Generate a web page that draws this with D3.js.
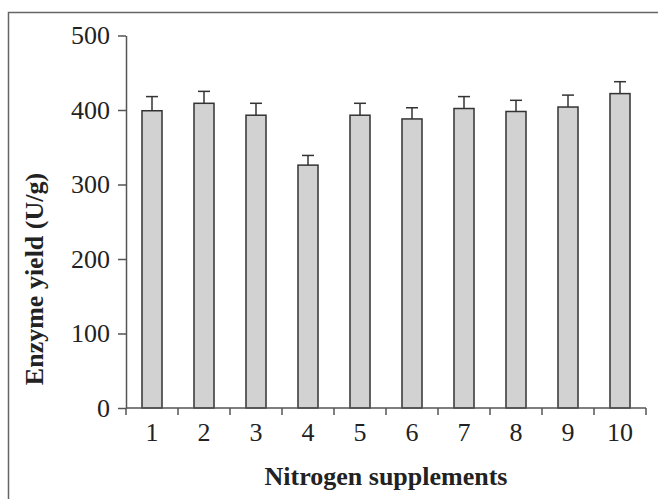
<!DOCTYPE html>
<html><head><meta charset="utf-8">
<script src="https://cdn.jsdelivr.net/npm/d3@7"></script>
<style>body{margin:0;background:#fff}svg{display:block}</style>
</head><body>
<svg id="c" width="658" height="499"></svg>
<script>
const categories = ["1","2","3","4","5","6","7","8","9","10"];
const yields = [399, 409, 393, 326, 393, 388, 402, 398, 404, 422];
const errors = [19, 16, 16, 13, 16, 15, 16, 15, 16, 16];
const yTicks = [0, 100, 200, 300, 400, 500];

const svg = d3.select("#c");
const L = 126, R = 646, T = 35.5, B = 408;
const font = "'Liberation Serif','Times New Roman',serif";

svg.append("path").attr("d", "M8.5,510 V12.5 H670")
  .attr("fill","none").attr("stroke","#666").attr("stroke-width",1.5);

const x = d3.scaleBand().domain(categories).range([L, R]).paddingInner(0.615).paddingOuter(0.3075);
const xb = d3.scaleBand().domain(categories).range([L, R]);
const y = d3.scaleLinear().domain([0, 500]).range([B, T]);

// bars
const g = svg.append("g");
g.selectAll("rect").data(categories).join("rect")
  .attr("x", d => x(d)).attr("width", x.bandwidth())
  .attr("y", (d,i) => y(yields[i])).attr("height", (d,i) => B - y(yields[i]))
  .attr("fill", "#d2d2d2").attr("stroke", "#333").attr("stroke-width", 1.5);

// error bars
const eb = svg.append("g").attr("stroke","#333").attr("stroke-width",1.5);
categories.forEach((c,i) => {
  const cx = x(c) + x.bandwidth()/2;
  eb.append("line").attr("x1",cx).attr("x2",cx).attr("y1",y(yields[i])).attr("y2",y(yields[i]+errors[i]));
  eb.append("line").attr("x1",cx-6).attr("x2",cx+6).attr("y1",y(yields[i]+errors[i])).attr("y2",y(yields[i]+errors[i]));
});

// y axis
const ya = svg.append("g").attr("transform",`translate(${L},0)`)
  .call(d3.axisLeft(y).tickValues(yTicks).tickSize(8).tickSizeOuter(0).tickPadding(8));
ya.select(".domain").attr("stroke","#555").attr("stroke-width",1.5);
ya.selectAll(".tick line").attr("stroke","#555").attr("stroke-width",1.5);
ya.selectAll(".tick text").attr("font-family",font).attr("font-size",26).attr("fill","#222");

// x axis with ticks at band boundaries
const xa = svg.append("g").attr("transform",`translate(0,${B})`);
xa.append("line").attr("x1",L).attr("x2",R).attr("stroke","#555").attr("stroke-width",1.5);
const bounds = categories.map(c => xb(c)).concat([R]);
xa.selectAll("line.t").data(bounds).join("line").attr("class","t")
  .attr("x1",d=>d).attr("x2",d=>d).attr("y1",0).attr("y2",7)
  .attr("stroke","#555").attr("stroke-width",1.5);
xa.selectAll("text").data(categories).join("text")
  .attr("x", d => xb(d) + xb.bandwidth()/2).attr("y", 33)
  .attr("text-anchor","middle").attr("font-family",font).attr("font-size",26).attr("fill","#222")
  .text(d => d);

svg.append("text").attr("x", 386).attr("y", 485).attr("text-anchor","middle")
  .attr("font-family",font).attr("font-weight","bold").attr("font-size",26).attr("fill","#222")
  .text("Nitrogen supplements");
svg.append("text").attr("transform","translate(43,279) rotate(-90)").attr("text-anchor","middle")
  .attr("font-family",font).attr("font-weight","bold").attr("font-size",26).attr("fill","#222")
  .text("Enzyme yield (U/g)");
</script>
</body></html>
